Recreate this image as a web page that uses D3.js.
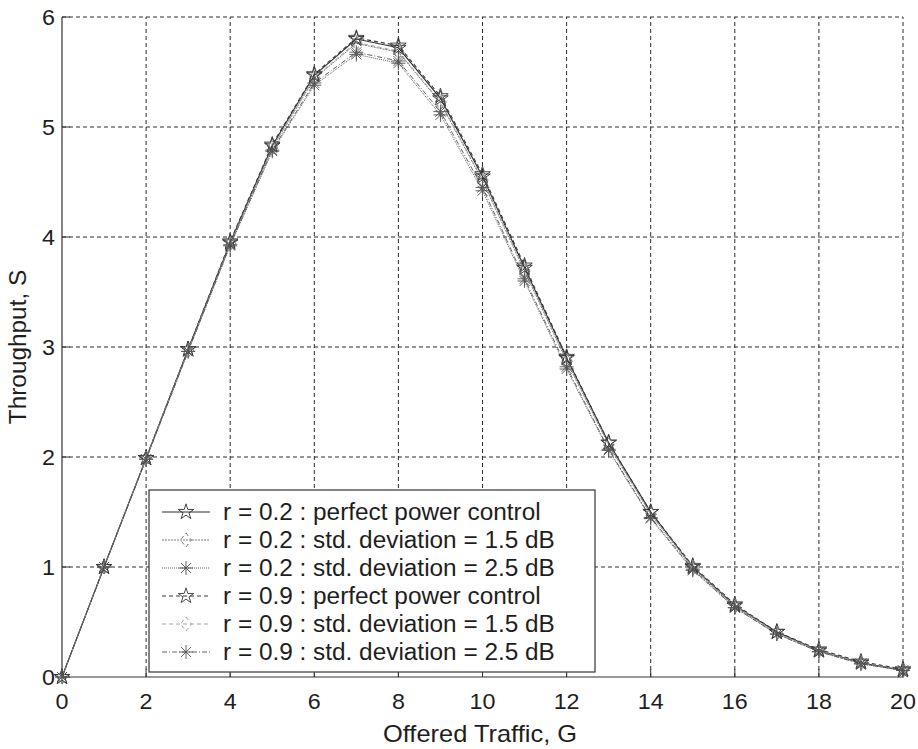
<!DOCTYPE html>
<html>
<head>
<meta charset="utf-8">
<script src="https://cdn.jsdelivr.net/npm/d3@7"></script>
<style>
	body{margin:0;background:#fff;}
	svg text{font-family:"Liberation Sans",Arial,Helvetica,sans-serif;fill:#1e1e1e;}
</style>
</head>
<body>
<svg id="chart" width="918" height="749"></svg>
<script>
'use strict'
// offered traffic G (x) and throughput S for each curve
var offeredTraffic = [0,1,2,3,4,5,6,7,8,9,10,11,12,13,14,15,16,17,18,19,20];
var r02Perfect = [0,1.00,1.99,2.98,3.95,4.83,5.47,5.80,5.72,5.26,4.55,3.72,2.90,2.13,1.50,1.00,0.65,0.41,0.24,0.13,0.06];
var r02Std15   = [0,1.00,1.99,2.97,3.94,4.81,5.44,5.76,5.68,5.22,4.51,3.69,2.87,2.11,1.48,0.99,0.64,0.40,0.24,0.13,0.06];
var r02Std25   = [0,1.00,1.98,2.96,3.92,4.78,5.38,5.66,5.58,5.11,4.42,3.60,2.80,2.06,1.44,0.97,0.63,0.39,0.23,0.12,0.06];
var r09Perfect = [0,1.00,1.99,2.98,3.96,4.84,5.48,5.81,5.74,5.28,4.57,3.74,2.91,2.13,1.50,1.01,0.66,0.41,0.25,0.14,0.07];
var r09Std15   = [0,1.00,1.99,2.97,3.94,4.81,5.45,5.77,5.69,5.23,4.52,3.70,2.88,2.11,1.48,1.00,0.65,0.40,0.24,0.13,0.06];
var r09Std25   = [0,1.00,1.98,2.96,3.93,4.79,5.40,5.68,5.60,5.14,4.45,3.62,2.82,2.07,1.45,0.98,0.63,0.39,0.23,0.12,0.06];

var legendLabels = ["r = 0.2 : perfect power control",
					"r = 0.2 : std. deviation = 1.5 dB",
					"r = 0.2 : std. deviation = 2.5 dB",
					"r = 0.9 : perfect power control",
					"r = 0.9 : std. deviation = 1.5 dB",
					"r = 0.9 : std. deviation = 2.5 dB"];
var xTicks = [0,2,4,6,8,10,12,14,16,18,20];
var yTicks = [0,1,2,3,4,5,6];

var series = [
	{values: r02Perfect, marker: "star",     stroke: "#2e2e2e", dash: null,  width: 1.1},
	{values: r02Std15,   marker: "diamond",  stroke: "#6a6a6a", dash: "2,1", width: 0.9},
	{values: r02Std25,   marker: "asterisk", stroke: "#4a4a4a", dash: "1,1", width: 0.9},
	{values: r09Perfect, marker: "star",     stroke: "#3a3a3a", dash: "4,3", width: 1.1},
	{values: r09Std15,   marker: "diamond",  stroke: "#9a9a9a", dash: "4,3", width: 0.9},
	{values: r09Std25,   marker: "asterisk", stroke: "#555555", dash: "5,2,1,2", width: 0.9}
];

var svg = d3.select("#chart");
var x = d3.scaleLinear().domain([0,20]).range([62,903]);
var y = d3.scaleLinear().domain([0,6]).range([677,17]);
var sx = 1.06; // the scanned text is a bit wider than it is tall

function stretchedText(parent, px, py, txt, anchor, size){
	return parent.append("text")
			.attr("transform", "translate(" + px + "," + py + ") scale(" + sx + ",1)")
			.attr("text-anchor", anchor)
			.style("font-size", size + "px")
			.text(txt);
}

function markerPath(kind){
	if(kind === "star")
		return d3.symbol(d3.symbolStar, 75)();
	if(kind === "diamond")
		return "M0,-7L5.5,0L0,7L-5.5,0Z";
	// asterisk: plus and cross
	return "M0,-7V7M-7,0H7M-5,-5L5,5M-5,5L5,-5";
}

// grid, dashed
var grid = svg.append("g").attr("class", "grid");
grid.selectAll("line.gx").data(xTicks.slice(1)).enter().append("line")
	.attr("x1", function(d){ return x(d); }).attr("x2", function(d){ return x(d); })
	.attr("y1", y(0)).attr("y2", y(6));
grid.selectAll("line.gy").data(yTicks.slice(1)).enter().append("line")
	.attr("x1", x(0)).attr("x2", x(20))
	.attr("y1", function(d){ return y(d); }).attr("y2", function(d){ return y(d); });
grid.selectAll("line")
	.attr("stroke", "#2a2a2a")
	.attr("stroke-width", 1)
	.attr("stroke-dasharray", "4,3");

// left and bottom frame
svg.append("path")
	.attr("d", "M" + x(0) + "," + y(6) + "V" + y(0) + "H" + x(20))
	.attr("fill", "none")
	.attr("stroke", "#333")
	.attr("stroke-width", 1.2);

// small inward ticks
svg.selectAll("line.tx").data(xTicks).enter().append("line")
	.attr("x1", function(d){ return x(d); }).attr("x2", function(d){ return x(d); })
	.attr("y1", y(0)).attr("y2", y(0) - 8)
	.attr("stroke", "#333");
svg.selectAll("line.ty").data(yTicks).enter().append("line")
	.attr("x1", x(0)).attr("x2", x(0) + 8)
	.attr("y1", function(d){ return y(d); }).attr("y2", function(d){ return y(d); })
	.attr("stroke", "#333");

// tick labels
xTicks.forEach(function(t){
	stretchedText(svg, x(t), 709, String(t), "middle", 22);
});
yTicks.forEach(function(t){
	stretchedText(svg, 55, y(t) + 8, String(t), "end", 22);
});

// axis titles
stretchedText(svg, 480, 742, "Offered Traffic, G", "middle", 24);
svg.append("text")
	.attr("transform", "translate(26,347) rotate(-90) scale(" + sx + ",1)")
	.attr("text-anchor", "middle")
	.style("font-size", "23px")
	.text("Throughput, S");

// curves
var line = d3.line()
			.x(function(d, i){ return x(offeredTraffic[i]); })
			.y(function(d){ return y(d); });
var curves = svg.append("g").attr("class", "curves");
series.forEach(function(s){
	curves.append("path")
		.attr("d", line(s.values))
		.attr("fill", "none")
		.attr("stroke", s.stroke)
		.attr("stroke-width", s.width)
		.attr("stroke-dasharray", s.dash);
});
series.forEach(function(s){
	curves.selectAll(null).data(s.values).enter().append("path")
		.attr("transform", function(d, i){ return "translate(" + x(offeredTraffic[i]) + "," + y(d) + ")"; })
		.attr("d", markerPath(s.marker))
		.attr("fill", "none")
		.attr("stroke", s.stroke)
		.attr("stroke-width", 0.9)
		.attr("stroke-dasharray", s.marker === "diamond" ? "4,3" : null);
});

// legend
var lg = svg.append("g").attr("class", "legend");
lg.append("rect")
	.attr("x", 149).attr("y", 490)
	.attr("width", 446).attr("height", 182)
	.attr("fill", "#fff")
	.attr("stroke", "#333")
	.attr("stroke-width", 1.2);
var rowY = d3.scaleLinear().domain([0,5]).range([512,652]);
legendLabels.forEach(function(lbl, i){
	var s = series[i], yy = rowY(i);
	lg.append("line")
		.attr("x1", 162).attr("x2", 210)
		.attr("y1", yy).attr("y2", yy)
		.attr("stroke", s.stroke)
		.attr("stroke-width", s.width)
		.attr("stroke-dasharray", s.dash);
	lg.append("path")
		.attr("transform", "translate(186," + yy + ")")
		.attr("d", markerPath(s.marker))
		.attr("fill", "none")
		.attr("stroke", s.stroke)
		.attr("stroke-width", 0.9)
		.attr("stroke-dasharray", s.marker === "diamond" ? "4,3" : null);
	stretchedText(lg, 223, yy + 8, lbl, "start", 23);
});
</script>
</body>
</html>
